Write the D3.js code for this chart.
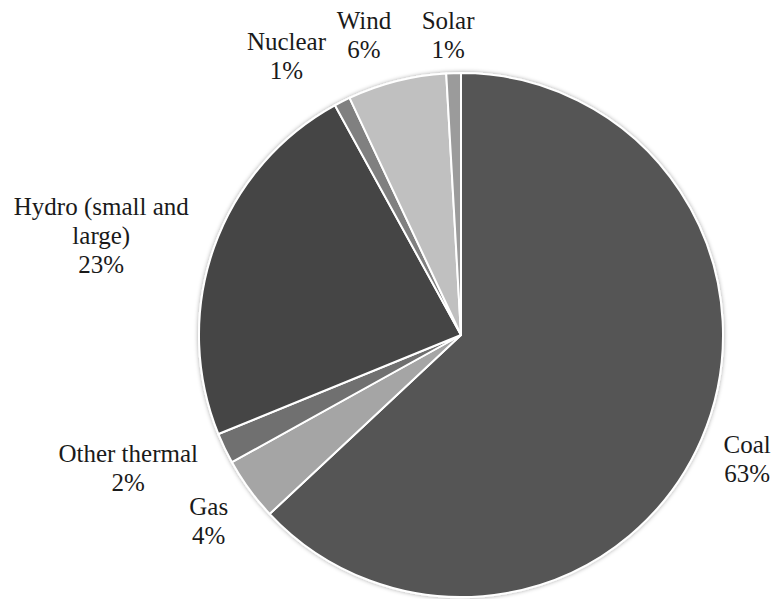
<!DOCTYPE html>
<html>
<head>
<meta charset="utf-8">
<script src="https://cdn.jsdelivr.net/npm/d3@7"></script>
<style>
  html, body { margin: 0; padding: 0; background: #ffffff; }
  svg { display: block; }
</style>
</head>
<body>
<svg id="chart" width="773" height="599"></svg>
<script>
// ---- data ----
const categories = ["Coal", "Gas", "Other thermal", "Hydro (small and large)", "Nuclear", "Wind", "Solar"];
const values     = [63.1, 3.9, 1.9, 23.2, 1.0, 6.1, 0.9];
const percentLabels = ["63%", "4%", "2%", "23%", "1%", "6%", "1%"];
const labelLines = [["Coal"], ["Gas"], ["Other thermal"], ["Hydro (small and", "large)"], ["Nuclear"], ["Wind"], ["Solar"]];
const colors     = ["#555555", "#a5a5a5", "#6f6f6f", "#444444", "#808080", "#c0c0c0", "#9b9b9b"];

// ---- layout (label placement: angle nudge in degrees, radius factor) ----
const labelNudge  = [-1.1, 0.6, 4.7, -1.0, -4.5, -3.4, -0.8];
const labelFactor = [1.181, 1.182, 1.360, 1.448, 1.276, 1.225, 1.169];

const W = 773, H = 599;
const cx = 461, cy = 335, R = 262;
const lineH = 29;

const svg = d3.select("#chart");
const defs = svg.append("defs");
const f = defs.append("filter").attr("id", "shadow")
  .attr("x", "-10%").attr("y", "-10%").attr("width", "120%").attr("height", "120%");
f.append("feDropShadow").attr("dx", 0).attr("dy", 0).attr("stdDeviation", 2)
  .attr("flood-color", "#000").attr("flood-opacity", 0.35);

const data = categories.map((c, i) => ({ name: c, value: values[i], i }));
const pie = d3.pie().value(d => d.value).sort(null);
const arcs = pie(data);
const arc = d3.arc().innerRadius(0).outerRadius(R);

const g = svg.append("g").attr("transform", `translate(${cx},${cy})`);

g.append("g").attr("filter", "url(#shadow)")
  .selectAll("path").data(arcs).join("path")
  .attr("d", arc)
  .attr("fill", d => colors[d.data.i])
  .attr("stroke", "#ffffff")
  .attr("stroke-width", 2)
  .attr("stroke-linejoin", "round");

const labels = g.append("g")
  .attr("font-family", "'Liberation Serif', 'DejaVu Serif', serif")
  .attr("font-size", 25)
  .attr("fill", "#1a1a1a")
  .attr("text-anchor", "middle");

arcs.forEach(a => {
  const i = a.data.i;
  const mid = (a.startAngle + a.endAngle) / 2 + labelNudge[i] * Math.PI / 180;
  const r = R * labelFactor[i];
  const x = r * Math.sin(mid);
  const y = -r * Math.cos(mid);
  const lines = labelLines[i].concat([percentLabels[i]]);
  const t = labels.append("text").attr("x", x).attr("y", y);
  lines.forEach((ln, k) => {
    t.append("tspan").attr("x", x).attr("y", y + k * lineH).text(ln);
  });
});
</script>
</body>
</html>
